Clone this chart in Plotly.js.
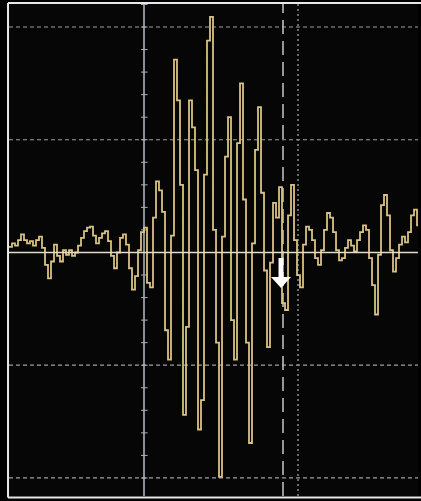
<!DOCTYPE html>
<html>
<head>
<meta charset="utf-8">
<script src="https://cdn.plot.ly/plotly-3.0.1.min.js"></script>
<style>
  html, body { margin: 0; padding: 0; background: #000; overflow: hidden; }
  #chart { width: 421px; height: 501px; }
</style>
</head>
<body>
<div id="chart"></div>
<script>
// Oscilloscope capture: one sample every step, amplitude in mV (100 mV / division)
const amplitudeMv = [
  5, 8, 6, 11, 16, 11, 8, 10, 6, 11,
  14, 4, -11, -23, -8, 7, -3, -8, 2, -2,
  2, -3, 0, 6, 13, 19, 22, 23, 15, 8,
  13, 17, 19, 10, -3, -14, 0, 13, 16, 7,
  -14, -33, -21, 2, 18, 22, -27, -31, 31, 63,
  55, 36, -69, -95, 15, 171, 135, 60, -144, -66,
  135, 111, 73, -157, -131, 69, 188, 209, 20, -80,
  -199, 14, 85, 120, -60, -95, 97, 150, 47, -80,
  -169, 8, 91, 129, 53, -16, -84, -9, 44, 31,
  58, -45, -51, 33, 60, 11, -20, -31, 7, 23,
  20, 11, -5, -11, 2, 20, 35, 31, 18, 2,
  -7, -5, 4, 11, 6, 1, 11, 18, 24, 20,
  -5, -29, -55, -2, 42, 51, 33, 2, -17, -5,
  7, 14, 9, 18, 33, 38, 24, 2
];
const sampleIndex = amplitudeMv.map((_, i) => i);

// Screen furniture (in sample / mV units)
const gridLevelsMv = [-200, -100, 100, 200];
const centerSample = 45;       // solid vertical graticule with minor ticks
const gridSample = 96.33;      // dotted vertical graticule
const cursorSample = 91.33;    // dashed cursor
const minorTickMv = 20;

const shapes = [];
gridLevelsMv.forEach(v => shapes.push({
  type: 'line', xref: 'paper', x0: 0, x1: 1, yref: 'y', y0: v, y1: v,
  line: {color: '#a0a0a0', width: 1.2, dash: '4px,3px'}, layer: 'below'
}));
shapes.push({type: 'line', xref: 'x', x0: gridSample, x1: gridSample, yref: 'paper', y0: 0, y1: 1,
  line: {color: '#8c8c8c', width: 1.5, dash: '2px,3px'}, layer: 'below'});
shapes.push({type: 'line', xref: 'x', x0: centerSample, x1: centerSample, yref: 'paper', y0: 0, y1: 1,
  line: {color: '#b4bcc8', width: 1.5}, layer: 'below'});
for (let v = -220; v <= 220; v += minorTickMv) {
  if (v === 0) continue;
  shapes.push({type: 'line', xref: 'x', x0: centerSample - 1, x1: centerSample + 1.2, yref: 'y', y0: v, y1: v,
    line: {color: '#a8b0bc', width: 1}, layer: 'below'});
}
shapes.push({type: 'line', xref: 'x', x0: cursorSample, x1: cursorSample, yref: 'paper', y0: 0, y1: 1,
  line: {color: '#c8c8c8', width: 1.5, dash: '14px,7px'}, layer: 'below'});
shapes.push({type: 'line', xref: 'paper', x0: 0, x1: 1, yref: 'y', y0: 0, y1: 0,
  line: {color: '#e4dcc4', width: 1.6}, layer: 'above'});
shapes.push({type: 'path', xref: 'x', yref: 'y',
  path: 'M 89.84,-5 L 91.5,-5 L 91.5,-21.7 L 94,-21.7 L 90.67,-31.5 L 87.34,-21.7 L 89.84,-21.7 Z',
  fillcolor: '#ffffff', line: {width: 0}, layer: 'above'});
// screen frame (left, top, bottom; right side runs off the capture)
shapes.push({type: 'line', xref: 'paper', yref: 'paper', x0: -0.0024, x1: -0.0024, y0: -0.003, y1: 1.002,
  line: {color: '#e8e8e8', width: 2}});
shapes.push({type: 'line', xref: 'paper', yref: 'paper', x0: -0.0024, x1: 1.0073, y0: 1.002, y1: 1.002,
  line: {color: '#e8e8e8', width: 2}});
shapes.push({type: 'line', xref: 'paper', yref: 'paper', x0: -0.0024, x1: 1.0073, y0: -0.003, y1: -0.003,
  line: {color: '#e8e8e8', width: 2}});
// dark strip beyond the right edge of the graticule
shapes.push({type: 'rect', xref: 'paper', yref: 'paper', x0: 1.0, x1: 1.0073, y0: 0, y1: 1,
  fillcolor: '#000000', line: {width: 0}, layer: 'above'});

const trace = {
  x: sampleIndex, y: amplitudeMv, type: 'scatter', mode: 'lines',
  line: {color: '#d9c283', width: 1.8, shape: 'hv'},
  hoverinfo: 'skip', cliponaxis: true
};

const layout = {
  width: 421, height: 501,
  margin: {l: 9, r: 3, t: 4, b: 5, pad: 0},
  paper_bgcolor: '#000000', plot_bgcolor: '#060606',
  showlegend: false,
  xaxis: {range: [0, 136.33], visible: false, showgrid: false, zeroline: false, fixedrange: true},
  yaxis: {range: [-216, 220.4], visible: false, showgrid: false, zeroline: false, fixedrange: true},
  shapes: shapes
};

Plotly.newPlot('chart', [trace], layout, {staticPlot: true, displayModeBar: false});
</script>
</body>
</html>
